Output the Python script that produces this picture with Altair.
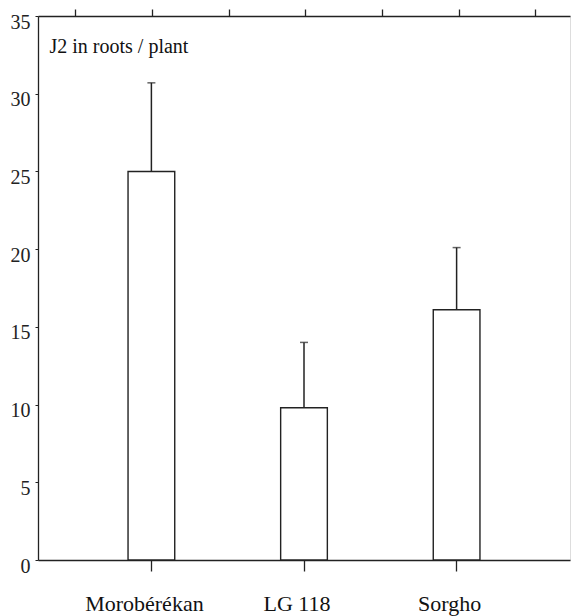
import altair as alt
import pandas as pd

categories = ["Morobérékan", "LG 118", "Sorgho"]
means = [25.0, 9.8, 16.1]
err_tops = [30.7, 14.0, 20.1]
y_ticks = [0, 5, 10, 15, 20, 25, 30, 35]
top_ticks = [0.5, 1.0, 1.5, 2.0, 2.5, 3.0, 3.5]

df = pd.DataFrame({"cat": categories, "mean": means, "err": err_tops})
df_top = pd.DataFrame({"t": top_ticks})

FONT = "Liberation Serif"

xscale = alt.Scale(paddingInner=0.694, paddingOuter=0.59)

xband = alt.X(
    "cat:N",
    sort=categories,
    scale=xscale,
    axis=alt.Axis(
        title=None, orient="bottom", labelAngle=0, labelFont=FONT, labelFontSize=22,
        labelColor="#111", tickSize=11, tickColor="#222", tickWidth=1.3,
        domainColor="#222", domainWidth=1.3, labelPadding=39,
        labelBaseline="alphabetic", labelOffset=-7,
    ),
)

yenc = alt.Y(
    "mean:Q",
    scale=alt.Scale(domain=[0, 35], nice=False),
    axis=alt.Axis(
        values=y_ticks, grid=False, tickSize=3, tickColor="#222", domainColor="#222",
        domainWidth=1.3, labelFont=FONT, labelFontSize=20, labelColor="#222",
        labelPadding=5, labelBaseline="middle", labelOffset=6,
        title="J2 in roots / plant", titleAngle=0, titleX=11, titleY=36,
        titleAlign="left", titleBaseline="alphabetic", titleFont=FONT,
        titleFontSize=20, titleFontWeight="normal", titleColor="#111",
    ),
)

base = alt.Chart(df)

bars = base.mark_bar(fill="white", stroke="#222", strokeWidth=1.4).encode(x=xband, y=yenc)

err_rule = base.mark_rule(color="#222", strokeWidth=1.5).encode(
    x=alt.X("cat:N", sort=categories), y="mean:Q", y2="err:Q"
)
err_cap = base.mark_tick(color="#222", thickness=1.5, size=8, orient="horizontal").encode(
    x=alt.X("cat:N", sort=categories), y="err:Q"
)

main = alt.layer(bars, err_rule, err_cap)

top = alt.Chart(df_top).mark_point(opacity=0).encode(
    x=alt.X(
        "t:Q",
        scale=alt.Scale(domain=[0.256, 3.726], nice=False, zero=False),
        axis=alt.Axis(
            orient="top", values=top_ticks, labels=False, title=None, grid=False,
            tickSize=7, tickColor="#222", tickWidth=1.3, domainColor="#222",
            domainWidth=1.3,
        ),
    ),
    y=alt.value(0),
)

chart = (
    alt.layer(main, top)
    .resolve_scale(x="independent")
    .properties(
        width=532,
        height=544,
        autosize=alt.AutoSizeParams(type="none"),
        padding={"left": 38, "top": 16, "right": 2, "bottom": 56},
    )
    .configure_view(stroke="#aaa", strokeWidth=1)
    .configure(background="white")
)

chart.save("out.html", embed_options={"renderer": "svg", "actions": False})
